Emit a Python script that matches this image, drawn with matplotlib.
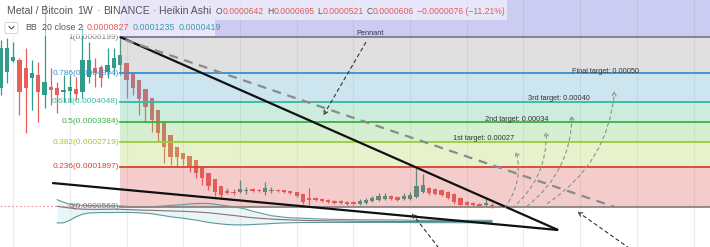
import matplotlib
matplotlib.use("Agg")
import matplotlib.pyplot as plt
import numpy as np
from matplotlib.patches import FancyArrowPatch, Rectangle, FancyBboxPatch

plt.rcParams['font.family'] = ['Liberation Sans', 'DejaVu Sans']

SAT = 1e-8

# Heikin Ashi weekly candles, Metal / Bitcoin (values in satoshi)
ha_open = [45098, 50398, 54041, 54373, 51723, 48411, 49404, 42780, 45430, 45098,
           43773, 44105, 44767, 43773, 48742, 51723, 52054, 50398, 51723, 52716,
           53379, 50067, 47748, 44767, 41786, 37811, 33837, 29531, 25556, 23569,
           22575, 21250, 18931, 16944, 14956, 12638, 10981, 10650, 10650, 10981,
           11644, 11312, 10650, 10981, 11312, 11312, 10981, 10650, 9987, 8662,
           8662, 8331, 8000, 7669, 7669, 7337, 7337, 6675, 7006, 7669,
           8000, 8331, 9325, 8994, 8331, 8331, 8994, 10650, 11975, 11644,
           11312, 10650, 9987, 8662, 7337, 7006, 6675, 6343, 6420]
ha_high = [60997, 61660, 60335, 55035, 58347, 54373, 53710, 73000, 51723, 47086,
           49404, 49404, 48742, 65966, 60335, 55035, 52716, 58347, 58347, 61991,
           53379, 50067, 47748, 44767, 41786, 37811, 33837, 29531, 25556, 23569,
           22575, 21250, 18931, 16944, 14956, 12638, 11975, 11644, 14625, 12306,
           11975, 11644, 13963, 12306, 11644, 11312, 10981, 10650, 9987, 11975,
           8994, 8662, 8331, 8000, 8000, 7669, 7669, 8331, 8662, 9325,
           10319, 10319, 9656, 9325, 10319, 10650, 18600, 16613, 12306, 11975,
           11644, 10981, 10319, 8994, 7669, 7337, 7006, 8662, 6950]
ha_low = [42780, 46755, 53710, 36155, 30193, 37811, 33837, 38474, 39467, 36818,
          40461, 40461, 41123, 41786, 46755, 45430, 45430, 48411, 49404, 49404,
          41786, 42780, 36155, 33837, 30525, 27212, 20256, 19594, 18931, 19594,
          17275, 15288, 12969, 11312, 9325, 8994, 9987, 9656, 10319, 9987,
          10650, 10650, 9656, 10319, 10650, 10319, 9987, 8994, 6675, 6343,
          7669, 7337, 7006, 6675, 6675, 6343, 6343, 6343, 6675, 7337,
          7669, 8000, 8000, 7669, 8000, 8000, 8662, 10319, 9656, 9656,
          9325, 8331, 6675, 6012, 6012, 6012, 5681, 6012, 5210]
ha_close = [58347, 58347, 55366, 43773, 45098, 50067, 43773, 47086, 44436, 42780,
            44436, 45430, 43111, 54373, 54373, 50067, 48411, 52716, 55035, 56029,
            47748, 45098, 41455, 38805, 34499, 30193, 25556, 22244, 22244, 21581,
            19263, 16944, 15288, 12638, 10650, 9656, 10319, 10319, 11644, 11312,
            10981, 10981, 11975, 11312, 10981, 10650, 10319, 9325, 7337, 8000,
            8000, 7669, 7337, 7006, 7006, 6675, 6675, 7669, 8000, 8662,
            9325, 9325, 8331, 8000, 9325, 9656, 12638, 12969, 10319, 9987,
            9656, 8662, 7337, 6343, 6343, 6343, 6012, 7006, 6060]

# Bollinger Bands (20, close, 2) from bar 9 onwards, satoshi
bb_start = 9
bb_upper = [8087, 7259, 6597, 6365, 6232, 6166, 6100, 6067, 6067, 6067,
            6034, 5901, 5702, 5603, 5669, 5768, 5901, 6034, 6199, 6332,
            6497, 6696, 6828, 6895, 6862, 6630, 6299, 6034, 5768, 5371,
            4940, 4278, 3781, 3284, 2787, 2556, 2291, 2125, 2025, 1959,
            1860, 1761, 1694, 1628, 1595, 1562, 1529, 1496, 1462, 1462,
            1429, 1429, 1429, 1396, 1396, 1363, 1297, 1264, 1264, 1264,
            1264, 1264, 1264, 1264, 1264, 1264, 1264, 1264, 1264, 1235]
bb_basis = [5934, 5603, 5338, 5106, 4974, 4907, 4907, 4907, 4940, 4974,
            4907, 4841, 4742, 4676, 4609, 4576, 4510, 4444, 4377, 4311,
            4245, 4145, 4046, 3914, 3781, 3549, 3317, 3086, 2887, 2622,
            2357, 2125, 1959, 1827, 1694, 1562, 1496, 1396, 1330, 1264,
            1197, 1164, 1131, 1098, 1065, 1032, 999, 966, 932, 932,
            899, 899, 899, 866, 866, 866, 866, 899, 899, 899,
            899, 899, 899, 899, 866, 866, 866, 866, 866, 827]
bb_lower = [402, 436, 1297, 2456, 3284, 3682, 3781, 3847, 3847, 3847,
            3914, 3880, 3847, 3781, 3615, 3450, 3119, 2787, 2456, 2191,
            1959, 1628, 1363, 966, 568, 303, 72, -127, -227, -260,
            -227, -127, -28, 72, 204, 303, 402, 469, 502, 535,
            568, 568, 568, 568, 568, 568, 568, 568, 568, 568,
            568, 568, 568, 568, 568, 535, 535, 502, 502, 502,
            502, 502, 502, 502, 469, 469, 469, 469, 469, 419]

# Fibonacci retracement anchored on the bar 19 high
fib_bar = 19
fib_levels = [0, 0.236, 0.382, 0.5, 0.618, 0.786, 1, 1.618]
fib_prices = [0.0000568, 0.0001897, 0.0002719, 0.0003384, 0.0004048, 0.0004994, 0.0006199, 0.0009679]
fib_labels = ["0(0.0000568)", "0.236(0.0001897)", "0.382(0.0002719)", "0.5(0.0003384)",
              "0.618(0.0004048)", "0.786(0.0004994)", "1(0.0006199)"]
fib_line_colors = ["#8c8585", "#d8432f", "#9ccc3c", "#3cb043", "#35b8a2", "#3a8fcf", "#7d7b90"]
fib_text_colors = ["#7a7a7a", "#d8432f", "#a6c43c", "#3cb043", "#35b8a2", "#3a8fcf", "#7a7a7a"]
fib_fill_colors = ["#de5858", "#b2d458", "#7acd69", "#58c68a", "#58accd", "#9b9b9b", "#5858d4"]

# drawings: (bar, price) pairs
pennant_top = [(19, 0.0006199), (88.5, -0.0000194)]
pennant_bottom = [(8.2, 0.0001363), (88.5, -0.0000194)]
projection = [(19.8, 0.000610), (97.5, 0.0000568)]
targets = ["1st target: 0.00027", "2nd target: 0.00034", "3rd target: 0.00040", "Final target: 0.00050"]
target_text_pos = [(71.8, 0.000285), (76.9, 0.000345), (83.7, 0.000415), (90.7, 0.000504)]
target_arrows = [((79.8, 0.0000469), (81.7, 0.000252)),
                 ((80.9, 0.0000469), (86.6, 0.000318)),
                 ((83.2, 0.0000535), (90.7, 0.000371)),
                 ((86.4, 0.0000634), (97.5, 0.000451))]
black_arrows = [((58.2, 0.000610), (51.0, 0.000352)),
                ((69.8, -0.0000856), (65.0, 0.0000436)),
                ((100.2, -0.0000856), (91.2, 0.0000469))]

green = "#2f9d8a"
red = "#e65f5b"

fig = plt.figure(figsize=(7.1, 2.47), dpi=100)
ax = fig.add_axes([0, 0, 1, 1])
ax.set_xlim(-0.08, 112.6)
ax.set_ylim(-0.0000757, 0.00074247)
ax.axis("off")

# grid
for gx in np.arange(2, 113, 9):
    ax.axvline(gx, color="#ececec", lw=0.8, zorder=0)

o = np.array(ha_open) * SAT
h = np.array(ha_high) * SAT
l = np.array(ha_low) * SAT
c = np.array(ha_close) * SAT
idx = np.arange(len(o))
cols = [green if cc >= oo else red for oo, cc in zip(o, c)]

# bollinger bands
bx = np.arange(bb_start, bb_start + len(bb_upper))
up = np.array(bb_upper) * SAT
mid = np.array(bb_basis) * SAT
lo = np.array(bb_lower) * SAT
ax.fill_between(bx, lo, up, color="#b9e0e3", alpha=0.3, lw=0, zorder=1)
ax.plot(bx, up, color="#5f9a9c", lw=0.8, zorder=6.5)
ax.plot(bx, lo, color="#5f9a9c", lw=0.8, zorder=6.5)
ax.plot(bx, mid, color="#8f6e6e", lw=0.8, zorder=6.5)

# candles
ax.vlines(idx, l, h, colors=cols, lw=0.9, zorder=3)
body = np.maximum(np.abs(c - o), 0.0000006)
ax.bar(idx, body, bottom=np.minimum(o, c), width=0.68, color=cols, lw=0, zorder=4)

# last price line
ax.axhline(c[-1], color="#e46a6a", lw=0.8, ls=(0, (1.5, 2)), alpha=0.7, zorder=5)

# fib zones
x_right = ax.get_xlim()[1]
for k in range(len(fib_levels) - 1):
    ax.add_patch(Rectangle((fib_bar, fib_prices[k]), x_right - fib_bar,
                           fib_prices[k + 1] - fib_prices[k],
                           color=fib_fill_colors[k], alpha=0.3, lw=0, zorder=6))
for k in range(len(fib_labels)):
    ax.plot([fib_bar, x_right], [fib_prices[k]] * 2, color=fib_line_colors[k], lw=1.3, zorder=7)
    ax.text(fib_bar - 0.25, fib_prices[k], fib_labels[k], ha="right", va="center",
            fontsize=6, color=fib_text_colors[k], zorder=8)

# pennant
ax.plot(*zip(*pennant_top), color="#111111", lw=1.6, zorder=9, solid_capstyle="butt")
ax.plot(*zip(*pennant_bottom), color="#111111", lw=1.6, zorder=9, solid_capstyle="butt")
ax.plot(*zip(*projection), color="#8a8a8a", lw=1.6, ls=(0, (4, 3)), zorder=9)

for (p0, p1) in target_arrows:
    ax.add_patch(FancyArrowPatch(p0, p1, connectionstyle="arc3,rad=0.25", arrowstyle="->",
                                 mutation_scale=7, color="#7f9a82", lw=0.8,
                                 linestyle=(0, (3, 3)), zorder=10))
for (p0, p1) in black_arrows:
    ax.add_patch(FancyArrowPatch(p0, p1, arrowstyle="->", mutation_scale=7,
                                 color="#333333", lw=0.8, linestyle=(0, (3, 3)), zorder=10))

for txt, (tx, ty) in zip(targets, target_text_pos):
    ax.text(tx, ty, txt, fontsize=5.3, color="#333333", va="center", ha="left", zorder=11)
ax.text(58.6, 0.000633, "Pennant", fontsize=5.3, color="#333355", ha="center", va="center", zorder=11)

# header overlay (pixel coordinates)
hd = fig.add_axes([0, 0, 1, 1])
hd.set_xlim(0, 710)
hd.set_ylim(247, 0)
hd.axis("off")
hd.add_patch(Rectangle((0, 0), 507, 20, color="white", alpha=0.55, lw=0))
hd.add_patch(Rectangle((0, 20), 215, 16, color="white", alpha=0.55, lw=0))
hd.add_patch(FancyBboxPatch((5, 22.5), 13, 11, boxstyle="round,pad=0,rounding_size=2",
                            fc="white", ec="#cccccc", lw=0.6))
hd.plot([9, 11.5, 14], [26.5, 29, 26.5], color="#555555", lw=0.8)

gray_t = "#555555"
red_t = "#e0595b"
blue_t = "#3c9bb0"


def chain(parts, x0, y):
    # lay text pieces one after another, gap given in points
    prev = None
    for txt, col, gap, size in parts:
        if prev is None:
            prev = hd.text(x0, y, txt, fontsize=size, color=col, va="center", ha="left")
        else:
            prev = hd.annotate(txt, xy=(1, 0.5), xycoords=prev, xytext=(gap, 0),
                               textcoords="offset points", fontsize=size, color=col,
                               va="center", ha="left")


title_parts = [("Metal / Bitcoin", gray_t, 0, 7.6), ("1W", gray_t, 3.2, 7.6), ("·", gray_t, 2.2, 7.6),
               ("BINANCE", gray_t, 2.2, 7.6), ("·", gray_t, 2.2, 7.6), ("Heikin Ashi", gray_t, 2.2, 7.6),
               ("O", gray_t, 3.0, 6.2), ("0.0000642", red_t, 0.2, 6.2),
               ("H", gray_t, 2.2, 6.2), ("0.0000695", red_t, 0.2, 6.2),
               ("L", gray_t, 2.2, 6.2), ("0.0000521", red_t, 0.2, 6.2),
               ("C", gray_t, 2.2, 6.2), ("0.0000606", red_t, 0.2, 6.2),
               ("\u22120.0000076 (\u221211.21%)", red_t, 2.2, 6.2)]
chain(title_parts, 7, 11)
bb_parts = [("BB", gray_t, 0, 6.4), ("20 close 2", gray_t, 3.5, 6.4), ("0.0000827", red_t, 3, 6.4),
            ("0.0001235", blue_t, 2.5, 6.4), ("0.0000419", blue_t, 2.5, 6.4)]
chain(bb_parts, 25, 28)

fig.savefig("out.png", dpi=100)
